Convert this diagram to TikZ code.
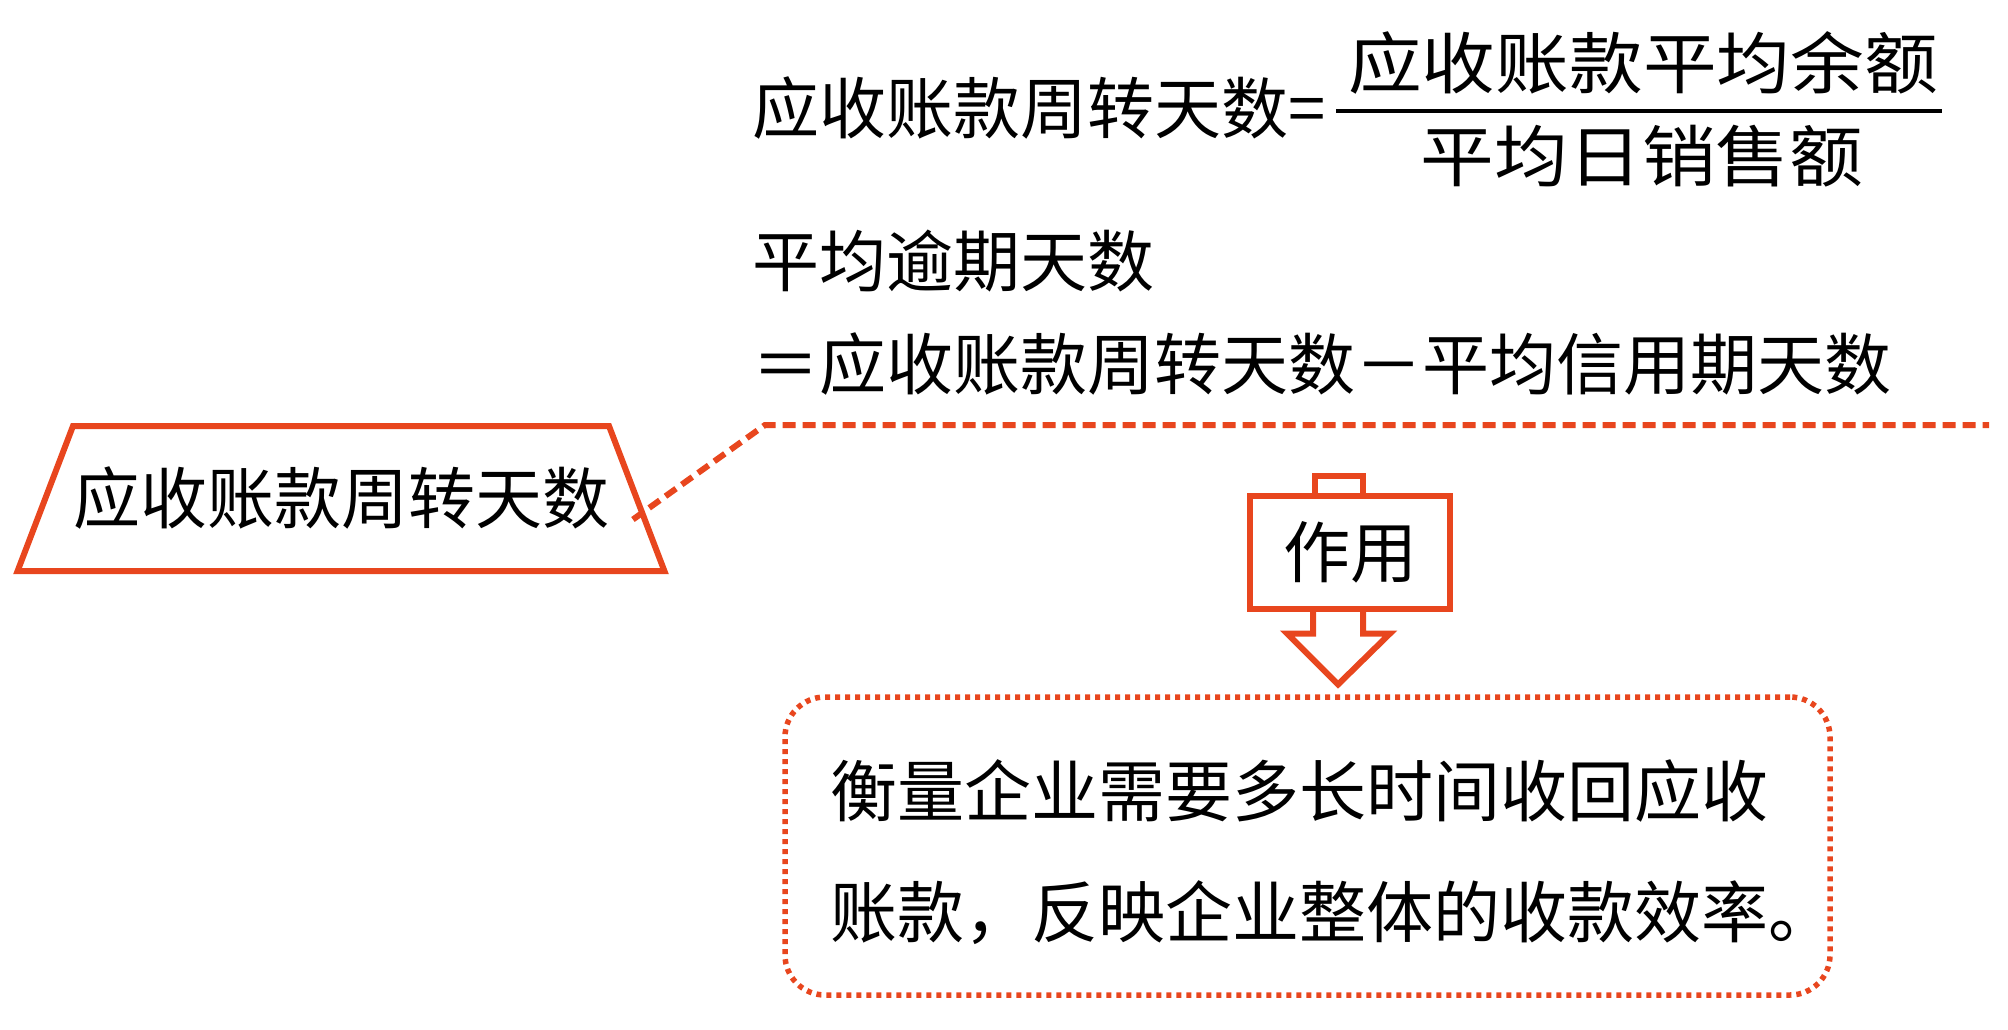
\documentclass[tikz,border=0pt]{standalone}
\usepackage{fontspec}
\newfontfamily\cjk{Noto Sans CJK SC}
\usetikzlibrary{shapes.geometric}
\definecolor{r1}{HTML}{E8461E}
\tikzstyle{txt}=[font=\cjk\fontsize{67}{121}\selectfont,inner sep=0]
\tikzstyle{red line}=[draw=r1,line width=6pt]

\begin{document}
\begin{tikzpicture}[x=1pt,y=-1pt]
  \useasboundingbox (0,0) rectangle (2008,1030);
  % formulas
  \node[txt,anchor=west] (rate) at (752,108) {应收账款周转天数=};
  \node[txt,xscale=1.1] (num) at (1643,63) {应收账款平均余额};
  \node[txt,xscale=1.1] (den) at (1642,156) {平均日销售额};
  \coordinate (bar l) at (1336,111);
  \coordinate (bar r) at (1942,111);
  \draw[line width=4.5pt] (bar l) -- (bar r);
  \node[txt,anchor=west] (overdue) at (752,261) {平均逾期天数};
  \node[txt,anchor=west] (diff) at (752,364) {＝应收账款周转天数－平均信用期天数};
  % left label
  \node[txt,red line,trapezium,trapezium stretches body=true,trapezium angle=68.5,
        inner ysep=39pt,minimum width=640pt,minimum height=145pt] (turnover) at (341,498.5) {应收账款周转天数};
  \coordinate (bend) at (765,425);
  \coordinate (line end) at (1989,425);
  \draw[red line,dash pattern=on 13pt off 7pt] ([shift={(-7,21)}]turnover.east) -- (bend) -- (line end);
  % effect
  \node[txt,red line,fill=white,minimum width=200pt,minimum height=113pt] (use) at (1350,552) {作用};
  \draw[red line] ([xshift=-35pt]use.north) -- ++(0,-17) -- ++(48,0) -- ++(0,17);
  \draw[red line] ([xshift=-37pt]use.south) -- ++(0,22) -- ++(-26,0) -- ++(51,51)
                  -- ++(52,-51) -- ++(-27,0) -- ++(0,-22);
  \node[red line,line width=5.5pt,dash pattern=on 5pt off 5pt,rounded corners=40pt,
        minimum width=1045pt,minimum height=298pt] (effect box) at (1307.5,846) {};
  \node[txt,anchor=west,align=left] (effect) at (830,852)
       {衡量企业需要多长时间收回应收\\账款，反映企业整体的收款效率。};
\end{tikzpicture}
\end{document}
